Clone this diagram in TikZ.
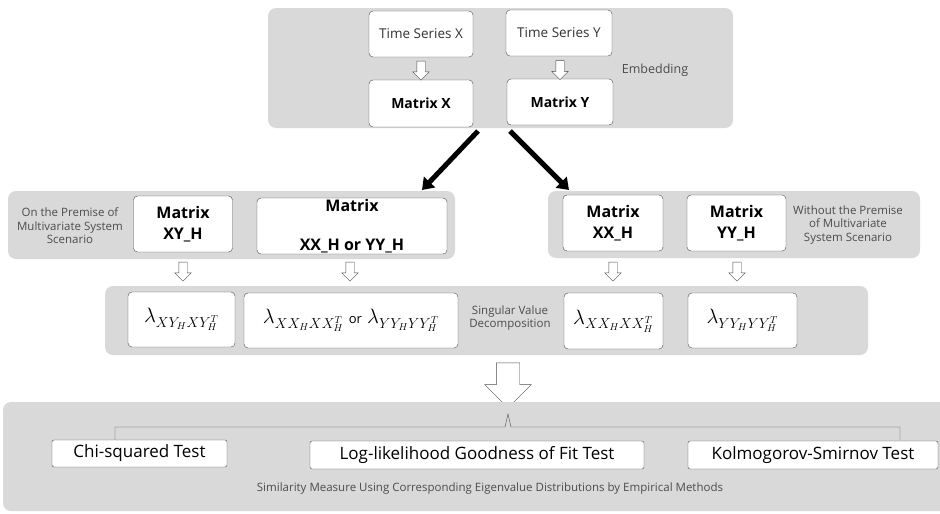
\documentclass[tikz,border=0pt]{standalone}
\usepackage{fontspec}
\setmainfont{Open Sans}
\usepackage{tikz}
\usetikzlibrary{shapes.arrows,arrows.meta}

\begin{document}
\begin{tikzpicture}[x=1pt, y=-1pt,
panel/.style={fill=black!15, rounded corners=8pt},
box/.style={rectangle, draw=black!70, fill=white, rounded corners=4pt, inner sep=0pt, align=center},
note/.style={text=black!70, align=center, font=\fontsize{11.5}{13.5}\selectfont},
mat/.style={box, font=\fontsize{16}{21}\selectfont\bfseries},
lam/.style={box, font=\fontsize{20}{22}\selectfont},
down/.style={single arrow, draw=black!70, fill=white, shape border rotate=270, inner sep=4pt, single arrow head extend=4pt, minimum height=19pt},
testbox/.style={box, rounded corners=2pt, font=\fontsize{17}{20}\selectfont}
    ]
  \clip (0,0) rectangle (940,514);

  %% embedding
  \fill[panel] (268,8) rectangle (733,128);
  \node[box, minimum width=104pt, minimum height=46pt, text=black!80, font=\fontsize{13.5}{15}\selectfont] (tsx) at (421,34) {Time Series X};
  \node[box, minimum width=106pt, minimum height=46pt, text=black!80, font=\fontsize{13.5}{15}\selectfont] (tsy) at (559,33) {Time Series Y};
  \node[box, minimum width=104pt, minimum height=47pt, font=\fontsize{14}{16}\selectfont\bfseries] (matx) at (421,103.5) {Matrix X};
  \node[box, minimum width=106pt, minimum height=46pt, font=\fontsize{14}{16}\selectfont\bfseries] (maty) at (560,102) {Matrix Y};
  \node[down] (ax) at (421,68.5) {};
  \node[down] (ay) at (560,68) {};
  \node[note, font=\fontsize{12.5}{14}\selectfont] (emb) at (655,70) {Embedding};

  \draw[line width=5pt, -{Triangle[length=11pt,width=15pt]}] (478,131) -- (422,190);
  \draw[line width=5pt, -{Triangle[length=11pt,width=15pt]}] (510,131) -- (569,190);

  %% matrices
  \fill[panel] (8,191) rectangle (455,259);
  \fill[panel] (548,191) rectangle (920,258);
  \node[note] (with) at (70,226) {On the Premise of\\Multivariate System\\Scenario};
  \node[mat, minimum width=99pt, minimum height=56pt] (mxy) at (183,224) {Matrix\\XY\_H};
  \node[mat, minimum width=190pt, minimum height=56pt] (mxxyy) at (352,226) {Matrix\\[18pt]XX\_H or YY\_H};
  \node[mat, minimum width=100pt, minimum height=56pt] (mxx) at (613,223) {Matrix\\XX\_H};
  \node[mat, minimum width=99pt, minimum height=56pt] (myy) at (736.5,223) {Matrix\\YY\_H};
  \node[note] (without) at (848,225) {Without the Premise\\of Multivariate\\System Scenario};

  \node[down] (a1) at (183,269.5) {};
  \node[down] (a2) at (350,269.5) {};
  \node[down] (a3) at (613,269.5) {};
  \node[down] (a4) at (737,269.5) {};

  %% svd
  \fill[panel] (105,286) rectangle (868,355);
  \node[lam, minimum width=107pt, minimum height=55pt] (lxy) at (181.5,319.5) {$\lambda_{XY_HXY_H^T}$};
  \node[lam, minimum width=214pt, minimum height=55pt] (lxxyy) at (351,320.5) {$\lambda_{XX_HXX_H^T}$ {\fontsize{13}{15}\selectfont or} $\lambda_{YY_HYY_H^T}$};
  \node[note] (svd) at (510,318) {Singular Value\\Decomposition};
  \node[lam, minimum width=99pt, minimum height=56pt] (lxx) at (613.5,321) {$\lambda_{XX_HXX_H^T}$};
  \node[lam, minimum width=109pt, minimum height=55pt] (lyy) at (742.5,320.5) {$\lambda_{YY_HYY_H^T}$};

  \node[single arrow, draw=black!70, fill=white, shape border rotate=270, inner sep=11.5pt, single arrow head extend=11.5pt, minimum height=45pt] (abig) at (508,379.5) {};

  %% tests
  \fill[panel] (3,402) rectangle (960,511);
  \coordinate (bl) at (115,440);
  \coordinate (br) at (900,440);
  \coordinate (bt) at (508,414);
  \draw[black!70, thin] (bl) |- (505,427) -- (bt) -- (511,427) -| (br);
  \node[testbox, minimum width=175pt, minimum height=27pt] (chi) at (139.5,453.5) {Chi-squared Test};
  \node[testbox, minimum width=334pt, minimum height=28pt] (loglik) at (477,455) {Log-likelihood Goodness of Fit Test};
  \node[testbox, minimum width=250pt, minimum height=28pt] (ks) at (813,455) {Kolmogorov-Smirnov Test};
  \node[note, font=\fontsize{11.5}{13}\selectfont] (sim) at (490,489) {Similarity Measure Using Corresponding Eigenvalue Distributions by Empirical Methods};
\end{tikzpicture}
\end{document}
